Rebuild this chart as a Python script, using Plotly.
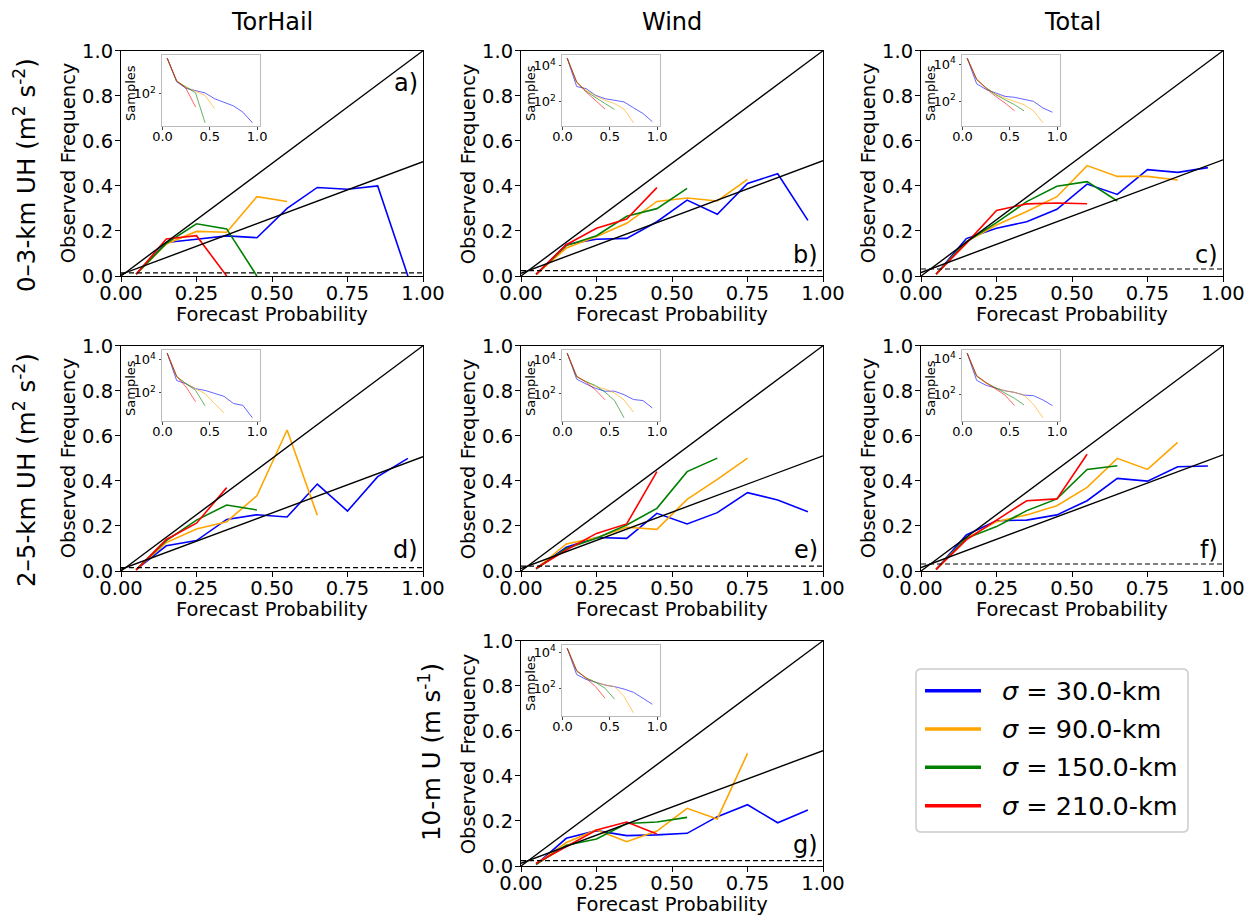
import numpy as np
import plotly.graph_objects as go

W, H = 1256, 915

# ---------------- data ----------------
prob_bins = [0.05, 0.15, 0.25, 0.35, 0.45, 0.55, 0.65, 0.75, 0.85, 0.95]
sigma_labels = ["30.0", "90.0", "150.0", "210.0"]
sigma_colors = ["#0000ff", "#ffa500", "#008000", "#ff0000"]
col_titles = ["TorHail", "Wind", "Total"]
row_titles = ["0\u20133-km UH (m<sup>2</sup> s<sup>-2</sup>)",
              "2\u20135-km UH (m<sup>2</sup> s<sup>-2</sup>)",
              "10-m U (m s<sup>-1</sup>)"]
panel_letters = ["a)", "b)", "c)", "d)", "e)", "f)", "g)"]
x_ticks = [0.0, 0.25, 0.5, 0.75, 1.0]
x_tick_text = ["0.00", "0.25", "0.50", "0.75", "1.00"]
y_ticks = [0.0, 0.2, 0.4, 0.6, 0.8, 1.0]
y_tick_text = ["0.0", "0.2", "0.4", "0.6", "0.8", "1.0"]
inset_x_ticks = [0.0, 0.5, 1.0]
inset_x_text = ["0.0", "0.5", "1.0"]
inset_y_ticks = [1e2, 1e4]
inset_y_text = ["10<sup>2</sup>", "10<sup>4</sup>"]

# climatological frequency for each panel a..g
clim = [0.014, 0.024, 0.031, 0.015, 0.022, 0.031, 0.024]

# observed frequency (sigma 30, 90, 150, 210)
obs_a = [[0.008, 0.149, 0.163, 0.178, 0.170, 0.300, 0.393, 0.385, 0.400, 0.0],
         [0.008, 0.142, 0.198, 0.194, 0.352, 0.331],
         [0.008, 0.145, 0.232, 0.209, 0.0],
         [0.008, 0.164, 0.179, 0.0]]
obs_b = [[0.007, 0.140, 0.163, 0.167, 0.241, 0.337, 0.274, 0.411, 0.454, 0.247],
         [0.007, 0.124, 0.175, 0.234, 0.331, 0.346, 0.333, 0.429],
         [0.007, 0.135, 0.179, 0.265, 0.299, 0.389],
         [0.007, 0.139, 0.212, 0.253, 0.392]]
obs_c = [[0.008, 0.166, 0.212, 0.241, 0.296, 0.408, 0.362, 0.472, 0.460, 0.481],
         [0.008, 0.152, 0.226, 0.286, 0.352, 0.490, 0.442, 0.442, 0.426],
         [0.008, 0.152, 0.237, 0.330, 0.398, 0.419, 0.333],
         [0.008, 0.145, 0.291, 0.320, 0.324, 0.321]]
obs_d = [[0.006, 0.112, 0.135, 0.229, 0.250, 0.240, 0.386, 0.266, 0.419, 0.500],
         [0.006, 0.126, 0.186, 0.219, 0.334, 0.626, 0.247],
         [0.006, 0.135, 0.226, 0.293, 0.271],
         [0.004, 0.140, 0.212, 0.370]]
obs_e = [[0.010, 0.105, 0.149, 0.145, 0.256, 0.209, 0.259, 0.348, 0.315, 0.263],
         [0.010, 0.120, 0.148, 0.194, 0.185, 0.318, 0.407, 0.501],
         [0.010, 0.100, 0.145, 0.204, 0.278, 0.441, 0.501],
         [0.012, 0.093, 0.167, 0.209, 0.441]]
obs_f = [[0.007, 0.160, 0.223, 0.226, 0.249, 0.312, 0.411, 0.399, 0.463, 0.466],
         [0.007, 0.145, 0.219, 0.249, 0.290, 0.371, 0.500, 0.451, 0.571],
         [0.007, 0.145, 0.197, 0.268, 0.320, 0.451, 0.467],
         [0.007, 0.138, 0.226, 0.312, 0.320, 0.518]]
obs_g = [[0.006, 0.123, 0.157, 0.135, 0.138, 0.145, 0.219, 0.272, 0.192, 0.249],
         [0.008, 0.104, 0.160, 0.108, 0.155, 0.256, 0.209, 0.500],
         [0.008, 0.092, 0.120, 0.189, 0.195, 0.216],
         [0.012, 0.086, 0.160, 0.195, 0.142]]

# number of samples per bin (inset)
samples_a = [[720, 195, 135, 120, 105, 76, 63, 51, 36, 20],
             [720, 200, 145, 115, 91, 44],
             [720, 200, 145, 105, 20],
             [720, 209, 132, 48]]
samples_b = [[26000, 710, 540, 230, 150, 123, 100, 47, 23, 8],
             [26000, 1230, 440, 214, 123, 81, 40, 7],
             [26000, 1230, 380, 166, 81, 38],
             [26000, 1260, 355, 123, 40]]
samples_c = [[21400, 890, 440, 280, 186, 166, 123, 100, 44, 26],
             [21400, 1510, 540, 250, 150, 100, 66, 31, 7],
             [21400, 1510, 540, 230, 123, 66, 31],
             [21400, 1580, 490, 186, 81, 31]]
samples_d = [[25000, 550, 350, 174, 138, 95, 60, 22, 17, 3],
             [25000, 950, 350, 174, 87, 22, 6],
             [25000, 950, 350, 138, 16],
             [25000, 1000, 220, 28]]
samples_e = [[24500, 740, 380, 214, 145, 145, 91, 47, 41, 15],
             [24500, 1070, 525, 270, 195, 115, 45, 8.5],
             [24500, 1000, 525, 310, 126, 41, 4],
             [24500, 1120, 480, 170, 45]]
samples_f = [[19500, 600, 320, 214, 158, 129, 91, 85, 49, 24],
             [19500, 1050, 400, 230, 158, 129, 91, 28, 5],
             [19500, 1000, 450, 230, 129, 60, 26],
             [19500, 1120, 450, 214, 91, 24]]
samples_g = [[16600, 575, 310, 214, 151, 123, 91, 60, 28, 13],
             [16600, 890, 380, 214, 151, 123, 35, 4.4],
             [16600, 890, 380, 214, 100, 25],
             [16600, 1000, 355, 123, 28]]

obs_all = [obs_a, obs_b, obs_c, obs_d, obs_e, obs_f, obs_g]
samples_all = [samples_a, samples_b, samples_c, samples_d, samples_e, samples_f, samples_g]

# ---------------- layout geometry (pixels) ----------------
FONT = "DejaVu Sans"
col_left = [121, 521, 921]
row_top = [50.7, 345.7, 640.7]
AX_W, AX_H = 302, 225.3
panel_pos = [(0, 0), (0, 1), (0, 2), (1, 0), (1, 1), (1, 2), (2, 1)]  # (row, col)


def fx(p):
    return p / W


def fy(p):
    return 1 - p / H


fig = go.Figure()
layout = dict(
    template="none",
    width=W, height=H,
    margin=dict(l=0, r=0, t=0, b=0, pad=0, autoexpand=False),
    paper_bgcolor="white", plot_bgcolor="white",
    showlegend=False,
    font=dict(family=FONT, color="black"),
)
annotations = []
shapes = []

for i, (r, c) in enumerate(panel_pos):
    n = i + 1
    m = i + 8
    left, top = col_left[c], row_top[r]
    right, bottom = left + AX_W, top + AX_H
    xa, ya = ("x" if n == 1 else f"x{n}"), ("y" if n == 1 else f"y{n}")
    xi, yi = f"x{m}", f"y{m}"
    cl = clim[i]

    # reliability curves
    for s in range(4):
        vals = obs_all[i][s]
        fig.add_trace(go.Scatter(x=prob_bins[:len(vals)], y=vals, mode="lines",
                                 line=dict(color=sigma_colors[s], width=1.6),
                                 xaxis=xa, yaxis=ya, hoverinfo="skip"))
    # perfect reliability, no-skill, climatology
    fig.add_trace(go.Scatter(x=[0, 1], y=[0, 1], mode="lines",
                             line=dict(color="black", width=1.4), xaxis=xa, yaxis=ya))
    fig.add_trace(go.Scatter(x=[0, 1], y=[cl / 2, (1 + cl) / 2], mode="lines",
                             line=dict(color="black", width=1.4), xaxis=xa, yaxis=ya))
    fig.add_trace(go.Scatter(x=[0, 1], y=[cl, cl], mode="lines",
                             line=dict(color="black", width=1.2, dash="5px,3px"),
                             xaxis=xa, yaxis=ya))

    # inset sample counts
    allv = [v for s in samples_all[i] for v in s]
    lo, hi = np.log10(min(allv)), np.log10(max(allv))
    mg = 0.05 * (hi - lo)
    for s in range(4):
        vals = samples_all[i][s]
        fig.add_trace(go.Scatter(x=prob_bins[:len(vals)], y=vals, mode="lines",
                                 line=dict(color=sigma_colors[s], width=1),
                                 opacity=0.6, xaxis=xi, yaxis=yi, hoverinfo="skip"))

    axis_common = dict(showgrid=False, zeroline=False, showline=True, mirror=True,
                       automargin=False,
                       linecolor="black", linewidth=1, ticks="outside", ticklen=5,
                       tickwidth=1, tickcolor="black",
                       tickfont=dict(family=FONT, size=19.5, color="black"))
    layout["xaxis" if n == 1 else f"xaxis{n}"] = dict(
        axis_common, domain=[fx(left), fx(right)], range=[0, 1],
        tickvals=x_ticks, ticktext=x_tick_text, ticklabelstandoff=-5,
        anchor=ya)
    layout["yaxis" if n == 1 else f"yaxis{n}"] = dict(
        axis_common, domain=[fy(bottom), fy(top)], range=[0, 1],
        tickvals=y_ticks, ticktext=y_tick_text, ticklabelstandoff=-2,
        anchor=xa)

    ileft, itop = left + 41, top + 4.3
    iright, ibottom = ileft + 97.5, itop + 71
    inset_common = dict(showgrid=False, zeroline=False, showline=True, mirror=True,
                        automargin=False,
                        linecolor="#bbbbbb", linewidth=1, ticks="outside", ticklen=2.5,
                        tickwidth=1, tickcolor="#444444",
                        tickfont=dict(family=FONT, size=13, color="black"))
    layout[f"xaxis{m}"] = dict(inset_common, domain=[fx(ileft), fx(iright)],
                               range=[-0.005, 1.025], tickvals=inset_x_ticks,
                               ticktext=inset_x_text, ticklabelstandoff=-4, anchor=yi)
    layout[f"yaxis{m}"] = dict(inset_common, domain=[fy(ibottom), fy(itop)],
                               type="log", range=[lo - mg, hi + mg],
                               tickvals=inset_y_ticks, ticktext=inset_y_text,
                               ticklabelstandoff=0, anchor=xi)
    annotations.append(dict(text="Samples", x=fx(ileft - 31.5), y=fy((itop + ibottom) / 2 + 3),
                            xref="paper", yref="paper", showarrow=False, textangle=-90,
                            xanchor="center", yanchor="middle",
                            font=dict(family=FONT, size=13, color="black")))

    # axis titles
    annotations.append(dict(text="Observed Frequency", x=fx(left - 53), y=fy((top + bottom) / 2),
                            xref="paper", yref="paper", showarrow=False, textangle=-90,
                            xanchor="center", yanchor="middle",
                            font=dict(family=FONT, size=19.5, color="black")))
    annotations.append(dict(text="Forecast Probability", x=fx((left + right) / 2), y=fy(bottom + 38),
                            xref="paper", yref="paper", showarrow=False,
                            xanchor="center", yanchor="middle",
                            font=dict(family=FONT, size=19.5, color="black")))
    # panel letter
    ly = top + 32 if i == 0 else bottom - 21
    annotations.append(dict(text=panel_letters[i], x=fx(right - 3), y=fy(ly),
                            xref="paper", yref="paper", showarrow=False,
                            xanchor="right", yanchor="middle",
                            font=dict(family=FONT, size=24, color="black")))

# column titles
for c in range(3):
    annotations.append(dict(text=col_titles[c], x=fx(col_left[c] + AX_W / 2), y=fy(22),
                            xref="paper", yref="paper", showarrow=False,
                            xanchor="center", yanchor="middle",
                            font=dict(family=FONT, size=24, color="black")))
# row titles
row_title_pos = [(25, 175), (25, 470), (430, 752)]
for r in range(3):
    px, py = row_title_pos[r]
    annotations.append(dict(text=row_titles[r], x=fx(px), y=fy(py),
                            xref="paper", yref="paper", showarrow=False, textangle=-90,
                            xanchor="center", yanchor="middle",
                            font=dict(family=FONT, size=24.5, color="black")))

# legend (drawn manually)
L, R, T, B, rad = 916, 1188, 669, 832, 5
rx, ry = rad / W, rad / H
path = (f"M {fx(L)+rx},{fy(T)} L {fx(R)-rx},{fy(T)} Q {fx(R)},{fy(T)} {fx(R)},{fy(T)-ry} "
        f"L {fx(R)},{fy(B)+ry} Q {fx(R)},{fy(B)} {fx(R)-rx},{fy(B)} "
        f"L {fx(L)+rx},{fy(B)} Q {fx(L)},{fy(B)} {fx(L)},{fy(B)+ry} "
        f"L {fx(L)},{fy(T)-ry} Q {fx(L)},{fy(T)} {fx(L)+rx},{fy(T)} Z")
shapes.append(dict(type="path", path=path, xref="paper", yref="paper",
                   line=dict(color="#cccccc", width=1.5), fillcolor="white"))
leg_rows = [690.7, 729.0, 767.3, 805.7]
for s in range(4):
    shapes.append(dict(type="line", xref="paper", yref="paper",
                       x0=fx(925), x1=fx(981), y0=fy(leg_rows[s]), y1=fy(leg_rows[s]),
                       line=dict(color=sigma_colors[s], width=3.5)))
    annotations.append(dict(text=f"<i>\u03c3</i> = {sigma_labels[s]}-km",
                            x=fx(1000), y=fy(leg_rows[s]), xref="paper", yref="paper",
                            showarrow=False, xanchor="left", yanchor="middle",
                            font=dict(family=FONT, size=25.5, color="black")))

layout["annotations"] = annotations
layout["shapes"] = shapes
fig.update_layout(**layout)
fig.write_html("out.html")
